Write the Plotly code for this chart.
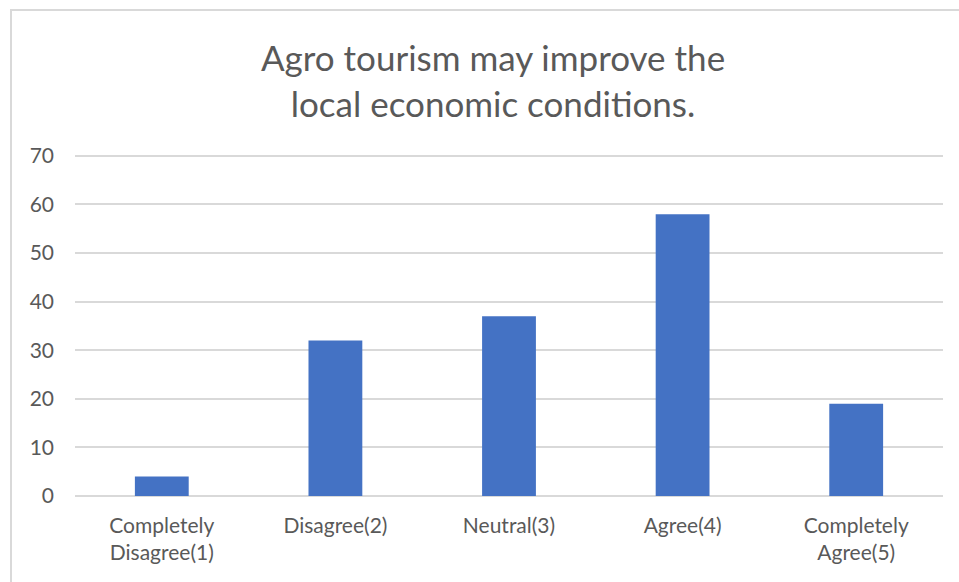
import plotly.graph_objects as go

categories = ["Completely<br>Disagree(1)", "Disagree(2)", "Neutral(3)", "Agree(4)", "Completely<br>Agree(5)"]
responses = [4, 32, 37, 58, 19]
y_ticks = [0, 10, 20, 30, 40, 50, 60, 70]
y_max = 71  # a little headroom so the 70 gridline is drawn

W, H = 959, 582
L, R, B = 75, 16, 86
T = 151
font_family = "Lato, 'Open Sans', sans-serif"
text_color = "#595959"
grid_color = "#d9d9d9"

fig = go.Figure(
    go.Bar(
        x=categories,
        y=responses,
        marker=dict(color="#4472C4", line=dict(width=0)),
        hoverinfo="x+y",
    )
)

pw = W - L - R
ph = H - T - B

# light frame around the chart area (right and bottom edges run off the page)
fig.add_shape(
    type="rect", xref="paper", yref="paper",
    x0=(11 - L) / pw, x1=(W + 20 - L) / pw,
    y0=((H - B) - (H + 20)) / ph, y1=((H - B) - 10) / ph,
    line=dict(color=grid_color, width=2), fillcolor="rgba(0,0,0,0)", layer="below",
)

fig.update_layout(
    width=W, height=H,
    margin=dict(l=L, r=R, t=T, b=B),
    paper_bgcolor="white", plot_bgcolor="white",
    bargap=0.69,
    showlegend=False,
    title=dict(
        text="Agro tourism may improve the<br>local economic conditions.",
        x=493 / W, xanchor="center",
        y=1 - 71 / H, yanchor="middle",
        font=dict(family=font_family, size=35, color=text_color),
    ),
    font=dict(family=font_family, size=21, color=text_color),
    xaxis=dict(
        showgrid=False, showline=False, zeroline=False,
        ticks="", ticklabelstandoff=15,
        tickfont=dict(size=21, color=text_color),
    ),
    yaxis=dict(
        range=[0, y_max], tickvals=y_ticks,
        showgrid=True, gridcolor=grid_color, gridwidth=1.5,
        zeroline=True, zerolinecolor=grid_color, zerolinewidth=1.5,
        showline=False, ticks="", ticklabelstandoff=20,
        tickfont=dict(size=21, color=text_color),
    ),
)

fig.write_html("out.html")
